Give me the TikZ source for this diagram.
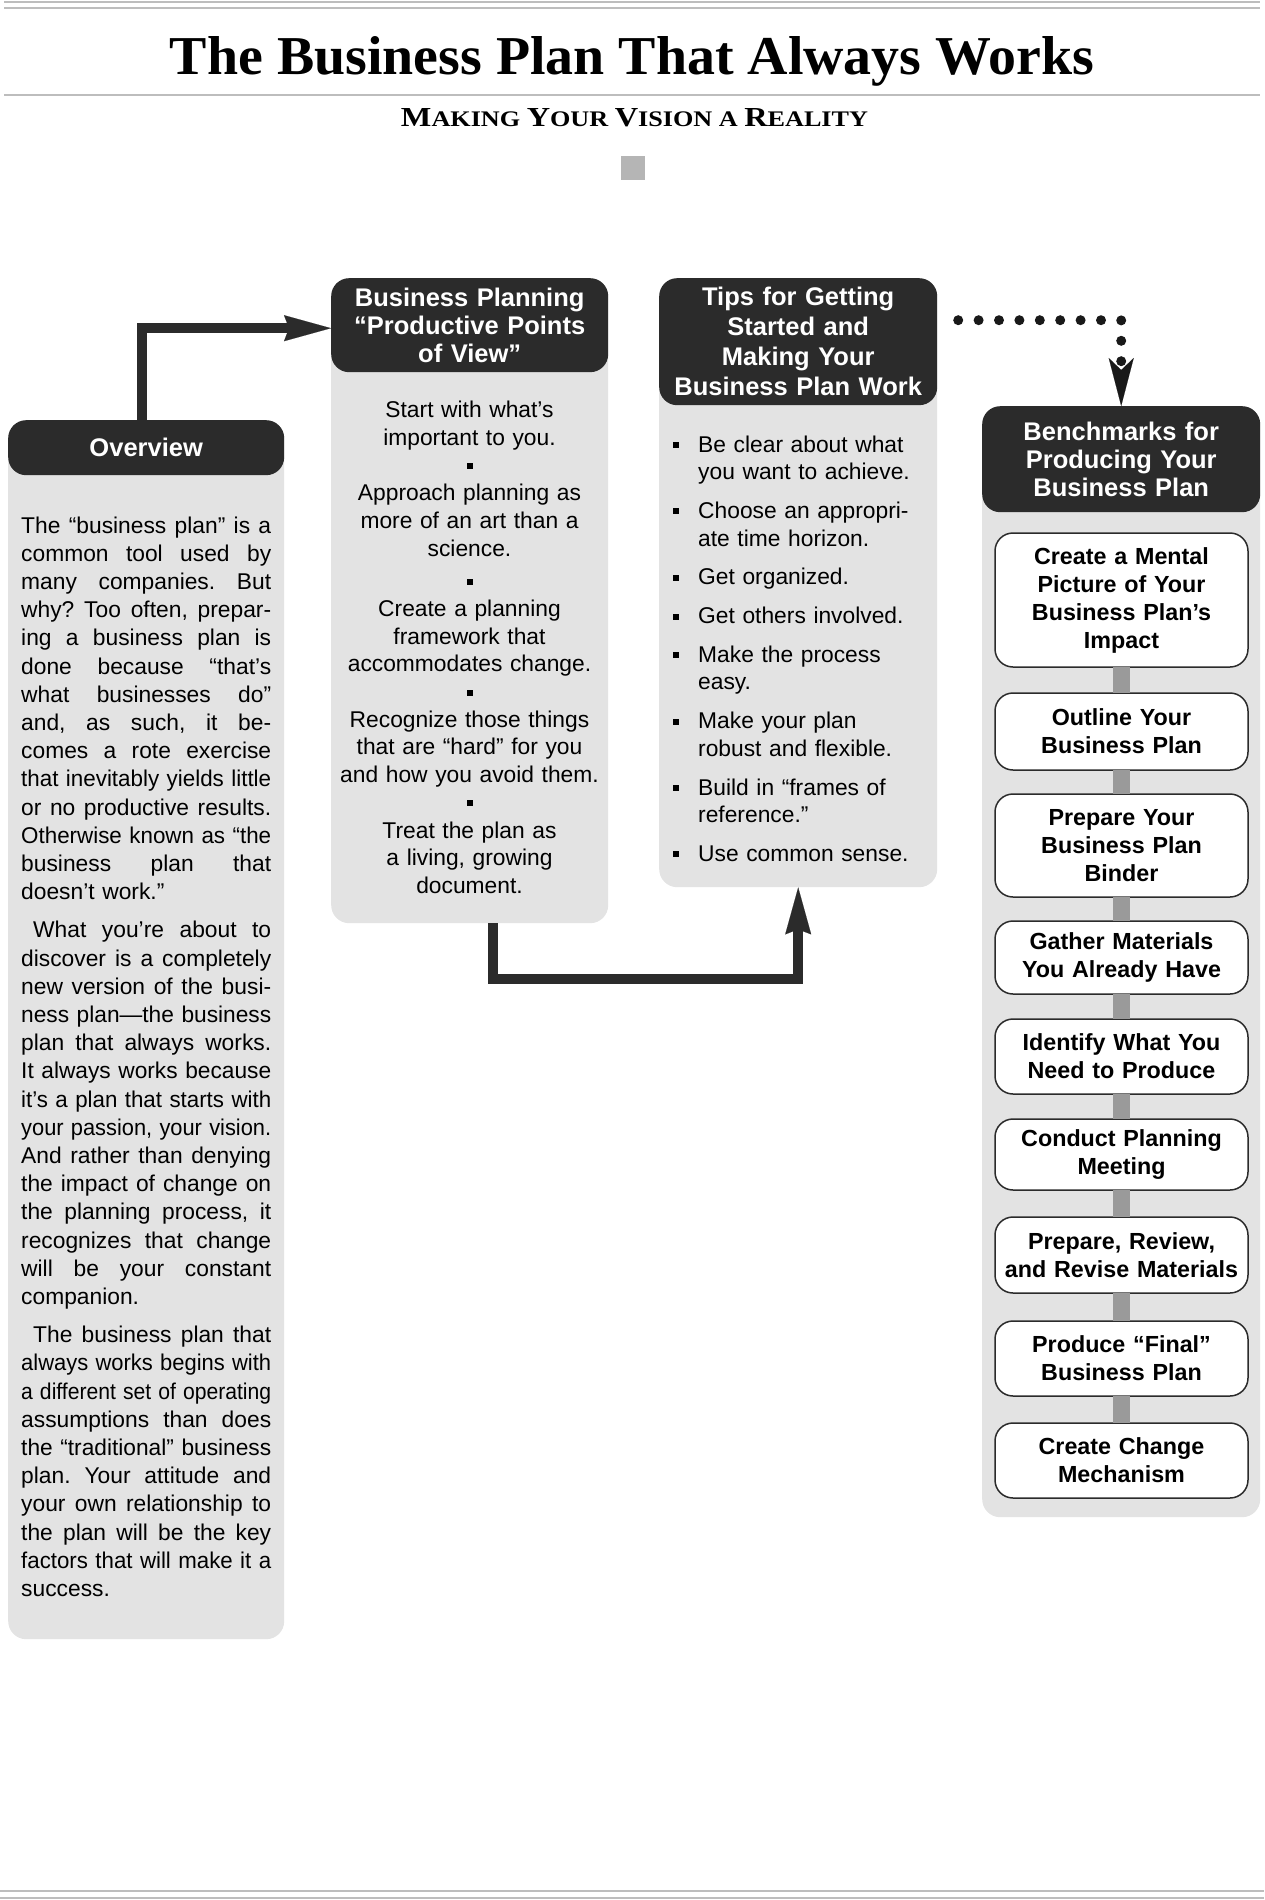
\documentclass[tikz,border=0pt]{standalone}
\usepackage{fontspec}
\setmainfont{Liberation Sans}
\newfontfamily\serifface{Liberation Serif}
\usepackage{graphicx}
\usepackage{xcolor}
\usepackage{tikz}
\usetikzlibrary{arrows.meta, positioning, calc}
\frenchspacing

\definecolor{headdark}{HTML}{2B2B2B}
\definecolor{bodygray}{HTML}{E3E3E3}
\definecolor{linkgray}{HTML}{9A9A9A}
\definecolor{rulegray}{HTML}{BDBDBD}
\definecolor{markgray}{HTML}{B5B5B5}

\newcommand{\sqbul}{\raisebox{4pt}{\rule{6pt}{6pt}}}
\newcommand{\lbul}{\leavevmode\llap{\sqbul\hspace{19pt}}}
\newcommand{\capword}[2]{{\fontsize{21}{21}\selectfont #1}{\fontsize{17}{17}\selectfont #2}}
\newsavebox{\jlbox}
\newcommand{\jl}[1]{\leavevmode\sbox\jlbox{#1}\ifdim\wd\jlbox>250pt \resizebox{250pt}{\height}{\usebox\jlbox}\else\hbox to 250pt{\spaceskip=0.25em plus 1fil\relax #1}\fi}

\begin{document}
\begin{tikzpicture}[
    x=1pt, y=-1pt,
    node distance=25pt,
    colbody/.style={fill=bodygray, rounded corners=18pt, inner sep=0pt, anchor=north west},
    colhead/.style={fill=headdark, text=white, rounded corners=18pt, inner sep=0pt, anchor=north west, align=center, font=\fontsize{25.5}{28}\selectfont\bfseries},
    bodytext/.style={inner sep=0pt, font=\fontsize{22.8}{27.7}\selectfont},
    bench/.style={draw=headdark, line width=1.5pt, fill=white, rounded corners=18pt, minimum width=253pt, text width=245pt, align=center, inner sep=0pt, outer sep=0pt, font=\fontsize{23.3}{28}\selectfont\bfseries},
    bigarrow/.style={draw=headdark, line width=10pt, -{Stealth[length=47pt, width=26pt, inset=5pt, line width=0.1pt]}},
    dotarrow/.style={draw=black!90, line width=10pt, line cap=round, dash pattern=on 0pt off 20.4pt, -{Stealth[length=48pt, width=25pt, inset=12pt, line width=0.1pt]}},
    benchlink/.style={draw=linkgray, line width=17pt},
    pagerule/.style={draw=rulegray, line width=2pt}
]
\useasboundingbox (0,0) rectangle (1264,1900);

% Page rules
\draw[pagerule] (4,2) -- (1260,2);
\draw[pagerule] (4,8.5) -- (1260,8.5);
\draw[pagerule, line width=2.5pt] (4,95) -- (1260,95);
\draw[pagerule] (0,1891) -- (1264,1891);
\draw[pagerule] (0,1898) -- (1264,1898);

% Title
\node[inner sep=0pt, anchor=base] (title) at (632,75) {\resizebox{924pt}{38pt}{\serifface\bfseries The Business Plan That Always Works}};
\node[inner sep=0pt, anchor=base] (subtitle) at (634.5,127) {\resizebox{467pt}{18pt}{\fontsize{17}{17}\selectfont\serifface\bfseries \capword{M}{AKING} \capword{Y}{OUR} \capword{V}{ISION} \capword{}{A} \capword{R}{EALITY}}};
\node[fill=markgray, minimum size=24pt, inner sep=0pt] (mark) at (633,167.5) {};

% Overview
\node[colbody, minimum width=276pt, minimum height=1219pt] (ovbody) at (8,420) {};
\node[colhead, minimum width=276pt, minimum height=55pt, text width=264pt] (ovhead) at (8,420) {Overview};
\node[bodytext, anchor=base west, text width=250pt, align=left, font=\fontsize{22.8}{28.2}\selectfont] (ovtext) at (21,533) {%
\jl{The “business plan” is a}\\
\jl{common tool used by}\\
\jl{many companies. But}\\
\jl{why? Too often, prepar-}\\
\jl{ing a business plan is}\\
\jl{done because “that’s}\\
\jl{what businesses do”}\\
\jl{and, as such, it be-}\\
\jl{comes a rote exercise}\\
\jl{that inevitably yields little}\\
\jl{or no productive results.}\\
\jl{Otherwise known as “the}\\
\jl{business plan that}\\
doesn’t work.”\\[10pt]
\jl{\hspace{12pt}What you’re about to}\\
\jl{discover is a completely}\\
\jl{new version of the busi-}\\
\jl{ness plan—the business}\\
\jl{plan that always works.}\\
\jl{It always works because}\\
\jl{it’s a plan that starts with}\\
\jl{your passion, your vision.}\\
\jl{And rather than denying}\\
\jl{the impact of change on}\\
\jl{the planning process, it}\\
\jl{recognizes that change}\\
\jl{will be your constant}\\
companion.\\[10pt]
\jl{\hspace{12pt}The business plan that}\\
\jl{always works begins with}\\
\jl{a different set of operating}\\
\jl{assumptions than does}\\
\jl{the “traditional” business}\\
\jl{plan. Your attitude and}\\
\jl{your own relationship to}\\
\jl{the plan will be the key}\\
\jl{factors that will make it a}\\
success.};

% Productive points of view
\node[colbody, minimum width=277pt, minimum height=645pt] (ppvbody) at (331,278) {};
\node[colhead, minimum width=277pt, minimum height=94pt, text width=265pt] (ppvhead) at (331,278) {Business Planning\\“Productive Points\\of View”};
\node[bodytext, anchor=base, text width=262pt, align=center] (ppvtext) at (469.5,417.5) {%
Start with what’s\\ important to you.\\ \sqbul\\
Approach planning as\\ more of an art than a\\ science.\\[5pt] \sqbul\\
Create a planning\\ framework that\\ accommodates change.\\ \sqbul\\
Recognize those things\\ that are “hard” for you\\ and how you avoid them.\\ \sqbul\\
Treat the plan as\\ a living, growing\\ document.};

% Tips
\node[colbody, minimum width=278pt, minimum height=609pt] (tipsbody) at (659,278) {};
\node[colhead, minimum width=278pt, minimum height=127pt, text width=268pt, font=\fontsize{25.5}{30}\selectfont\bfseries] (tipshead) at (659,278) {Tips for Getting\\Started and\\Making Your\\Business Plan Work};
\node[bodytext, anchor=base west, text width=228pt, align=left] (tipstext) at (698,452) {%
\lbul Be clear about what\\ you want to achieve.\\[11pt]
\lbul Choose an appropri-\\ ate time horizon.\\[11pt]
\lbul Get organized.\\[11pt]
\lbul Get others involved.\\[11pt]
\lbul Make the process\\ easy.\\[11pt]
\lbul Make your plan\\ robust and flexible.\\[11pt]
\lbul Build in “frames of\\ reference.”\\[11pt]
\lbul Use common sense.};

% Benchmarks
\node[colbody, minimum width=278pt, minimum height=1111pt] (benchbody) at (982,406) {};
\node[colhead, minimum width=278pt, minimum height=106pt, text width=268pt] (benchhead) at (982,406) {Benchmarks for\\Producing Your\\Business Plan};
\node[bench, minimum height=134pt, anchor=north] (b1) at (1121.5,533) {Create a Mental\\Picture of Your\\Business Plan’s\\Impact};
\node[bench, minimum height=77pt, below=26pt of b1] (b2) {Outline Your\\Business Plan};
\node[bench, minimum height=103pt, below=24pt of b2] (b3) {Prepare Your\\Business Plan\\Binder};
\node[bench, minimum height=73pt, below=24pt of b3] (b4) {Gather Materials\\You Already Have};
\node[bench, minimum height=75pt, below=25pt of b4] (b5) {Identify What You\\Need to Produce};
\node[bench, minimum height=71pt, below=25pt of b5] (b6) {Conduct Planning\\Meeting};
\node[bench, minimum height=76pt, below=27pt of b6] (b7) {Prepare, Review,\\and Revise Materials};
\node[bench, minimum height=75pt, below=28pt of b7] (b8) {Produce “Final”\\Business Plan};
\node[bench, minimum height=75pt, below=27pt of b8] (b9) {Create Change\\Mechanism};

\draw[benchlink] (b1.south) -- (b2.north);
\draw[benchlink] (b2.south) -- (b3.north);
\draw[benchlink] (b3.south) -- (b4.north);
\draw[benchlink] (b4.south) -- (b5.north);
\draw[benchlink] (b5.south) -- (b6.north);
\draw[benchlink] (b6.south) -- (b7.north);
\draw[benchlink] (b7.south) -- (b8.north);
\draw[benchlink] (b8.south) -- (b9.north);

% Arrows
\draw[bigarrow] ([xshift=-4pt]ovhead.north) |- ([yshift=-3pt]ppvhead.west);
\draw[bigarrow] ([xshift=23.5pt]ppvbody.south) -- ++(0,56) -| (tipsbody.south);
\draw[dotarrow] ([xshift=20.8pt, yshift=21.5pt]tipshead.east) -| (benchhead.north);

\end{tikzpicture}
\end{document}
